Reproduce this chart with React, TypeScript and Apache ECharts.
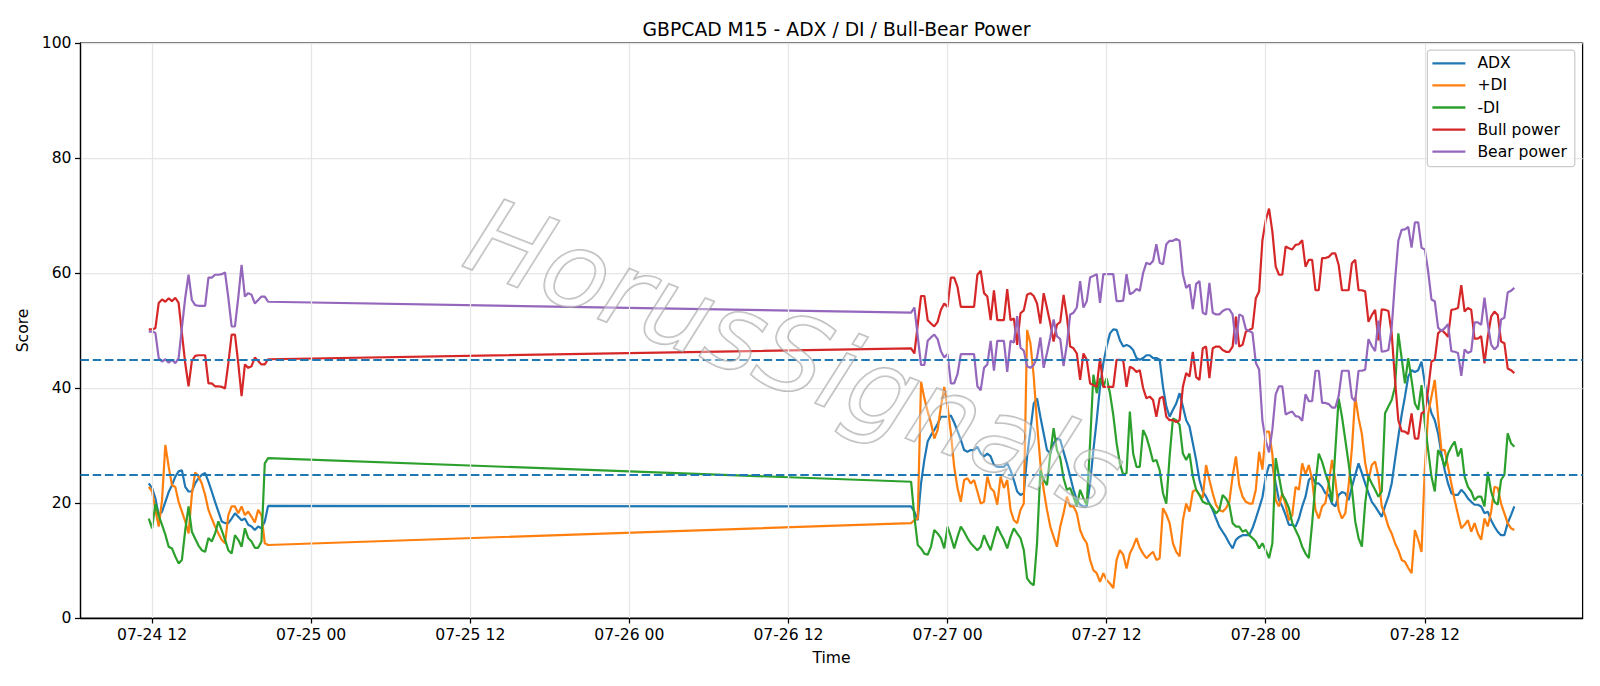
import { useEffect, useRef } from "react";
import * as echarts from "echarts";

// Time is measured in hours after 07-24 00:00; bars are 15 minutes apart.
const SESSION_1_START_H = 11.75; // 07-24 11:45
const SESSION_2_START_H = 69.25; // 07-26 21:15
const BAR_H = 0.25;
const SESSION_1_BARS = 37;

const X_MIN = 6.6;
const X_MAX = 119.9;
const X_TICKS = [12, 24, 36, 48, 60, 72, 84, 96, 108];
const THRESHOLDS = [45, 25];

// Session 1 (37 bars) followed by session 2 (183 bars)
const adx = [
  23.4, 22.6, 20.8, 17.9, 18.5, 20.2, 21.9, 23.1, 24.6, 25.5,
  25.7, 22.8, 22.0, 22.0, 23.4, 24.3, 24.9, 25.2, 23.7, 22.0,
  20.2, 18.5, 16.8, 16.5, 16.5, 17.3, 18.2, 17.6, 17.0, 17.3,
  16.2, 15.9, 15.3, 15.9, 15.6, 16.8, 19.5,
  19.4, 18.5, 17.0, 23.4, 27.5, 30.7, 31.8, 32.7, 33.8, 35.0,
  35.0, 35.0, 35.2, 34.0, 32.5, 31.0, 29.2, 28.9, 29.2, 29.2,
  29.8, 28.6, 28.1, 28.6, 28.1, 26.6, 26.3, 26.3, 26.3, 26.9,
  25.7, 24.0, 22.0, 21.4, 21.7, 28.1, 32.7, 37.3, 38.2, 35.0,
  32.1, 29.2, 28.6, 30.4, 31.2, 31.0, 28.9, 26.9, 24.6, 22.3,
  20.5, 19.7, 19.4, 19.4, 23.4, 29.2, 34.4, 40.2, 44.3, 47.2,
  49.5, 50.2, 50.1, 48.3, 47.2, 47.5, 47.2, 46.6, 45.2, 44.9,
  45.2, 45.7, 45.7, 45.2, 45.2, 44.9, 40.2, 36.8, 35.0, 36.2,
  37.3, 39.1, 36.8, 34.4, 33.3, 30.4, 27.5, 24.0, 22.0, 21.1,
  19.9, 18.8, 17.3, 15.9, 15.0, 14.1, 13.0, 12.1, 13.6, 14.1,
  14.4, 14.4, 14.4, 15.6, 17.3, 19.1, 21.0, 24.5, 26.6, 26.6,
  23.4, 20.5, 19.4, 17.9, 16.2, 16.2, 15.9, 17.3, 19.4, 21.1,
  24.0, 24.6, 23.4, 23.4, 22.8, 21.7, 21.4, 19.9, 19.4, 21.4,
  21.9, 21.7, 20.5, 22.8, 24.9, 26.9, 25.2, 23.4, 21.7, 20.2,
  19.4, 18.5, 17.6, 19.5, 21.1, 23.4, 27.5, 31.5, 35.3, 38.5,
  42.0, 43.1, 42.8, 43.1, 44.6, 40.8, 37.9, 35.6, 34.4, 32.1,
  28.6, 25.7, 23.4, 21.7, 21.4, 21.4, 22.3, 21.7, 20.8, 20.2,
  19.7, 19.7, 19.4, 18.2, 18.5, 17.0, 15.9, 15.0, 14.4, 14.4,
  16.5, 17.9, 19.4,
];

const plusDi = [
  22.8, 22.0, 18.8, 15.9, 20.5, 30.1, 26.3, 23.1, 22.8, 20.2,
  18.5, 16.8, 14.7, 21.5, 25.3, 24.6, 23.4, 21.4, 18.8, 17.3,
  15.9, 14.7, 13.6, 13.0, 17.9, 19.4, 19.4, 18.2, 19.4, 17.9,
  18.5, 17.6, 16.6, 18.8, 17.9, 13.0, 12.7,
  16.5, 17.0, 17.3, 41.1, 38.2, 35.9, 33.9, 31.2, 32.7, 36.8,
  40.2, 36.8, 32.2, 26.3, 22.6, 20.2, 24.0, 24.3, 23.4, 24.0,
  22.0, 19.9, 20.2, 24.6, 22.6, 22.0, 19.7, 24.6, 22.6, 24.0,
  18.8, 17.0, 16.5, 18.8, 19.9, 50.1, 47.8, 42.0, 33.9, 26.9,
  22.3, 18.8, 15.9, 14.1, 12.4, 15.9, 18.2, 21.1, 19.4, 19.4,
  18.2, 15.3, 13.9, 13.0, 10.1, 8.3, 7.8, 6.3, 7.8, 6.6,
  6.0, 5.2, 10.1, 11.8, 11.0, 8.6, 11.2, 12.4, 13.9, 12.2,
  11.2, 10.4, 11.0, 11.5, 10.1, 10.4, 19.1, 18.0, 16.5, 13.0,
  11.5, 10.7, 17.0, 19.9, 18.5, 22.0, 22.3, 21.4, 20.9, 26.6,
  24.0, 21.7, 19.7, 18.8, 18.5, 19.1, 20.2, 24.6, 28.1, 23.1,
  21.1, 20.2, 19.9, 19.9, 22.3, 28.9, 25.8, 32.4, 32.4, 28.5,
  20.5, 19.4, 21.7, 19.7, 17.0, 17.9, 22.8, 22.3, 26.9, 25.0,
  26.6, 24.0, 18.8, 17.3, 19.4, 20.0, 23.4, 27.5, 24.0, 18.8,
  17.3, 18.2, 23.0, 29.5, 38.5, 34.8, 32.0, 27.0, 24.0, 26.6,
  27.2, 24.6, 19.4, 17.9, 15.9, 14.7, 13.0, 11.8, 10.1, 9.8,
  8.7, 7.8, 15.3, 13.6, 11.5, 26.0, 35.5, 38.5, 41.4, 35.0,
  29.2, 29.2, 26.3, 23.4, 20.5, 18.0, 15.6, 16.2, 17.0, 15.0,
  16.5, 14.7, 13.6, 17.3, 15.9, 18.5, 22.8, 22.6, 19.9, 18.2,
  16.5, 15.6, 15.3,
];

const minusDi = [
  17.3, 15.6, 19.9, 17.8, 16.2, 14.5, 12.4, 12.1, 10.7, 9.5,
  10.1, 15.3, 19.4, 15.0, 13.8, 12.6, 11.8, 11.5, 13.9, 13.3,
  14.7, 16.8, 15.3, 13.6, 11.8, 11.2, 14.4, 13.6, 12.4, 15.6,
  13.9, 13.3, 12.2, 12.2, 13.3, 26.9, 27.8,
  23.7, 17.6, 12.7, 12.1, 11.2, 11.0, 12.4, 15.3, 14.7, 13.9,
  12.1, 15.9, 14.1, 12.1, 14.1, 15.9, 15.0, 13.9, 13.0, 12.4,
  11.8, 12.4, 14.4, 13.0, 11.8, 13.9, 15.9, 14.7, 13.6, 12.1,
  14.1, 15.6, 14.7, 13.9, 11.8, 6.9, 6.1, 5.7, 13.0, 25.7,
  24.0, 23.1, 28.6, 33.0, 29.2, 27.8, 24.3, 22.3, 22.6, 21.1,
  19.4, 22.3, 20.8, 19.7, 30.4, 42.3, 39.1, 41.7, 40.2, 41.7,
  39.1, 35.3, 30.4, 26.9, 24.9, 25.2, 35.9, 28.6, 26.3, 26.3,
  32.7, 31.5, 29.5, 27.2, 27.5, 25.7, 21.7, 19.9, 28.1, 34.7,
  34.4, 33.6, 28.6, 27.5, 28.6, 24.6, 22.3, 21.4, 20.2, 19.9,
  19.9, 19.1, 18.2, 18.8, 21.4, 20.8, 19.7, 16.5, 15.9, 15.9,
  15.0, 15.3, 14.4, 13.9, 13.3, 12.1, 13.0, 11.8, 10.4, 13.0,
  27.8, 24.6, 21.4, 20.5, 19.1, 16.5, 15.3, 14.1, 12.4, 11.2,
  10.4, 16.5, 23.4, 28.6, 27.2, 25.2, 23.4, 20.2, 29.2, 38.2,
  35.0, 31.0, 26.9, 22.6, 16.8, 13.9, 12.4, 19.9, 24.6, 23.4,
  22.3, 21.1, 22.0, 35.6, 36.8, 37.9, 40.2, 49.5, 45.2, 40.8,
  45.2, 41.4, 37.3, 36.2, 40.5, 33.9, 29.2, 24.6, 22.0, 29.2,
  28.1, 26.3, 28.6, 29.8, 30.7, 28.1, 29.5, 24.6, 22.8, 22.0,
  20.5, 21.1, 21.1, 19.4, 25.4, 22.0, 20.2, 19.7, 24.0, 24.9,
  32.1, 30.4, 29.8,
];

const bullPower = [
  50.2, 50.2, 50.4, 54.8, 55.4, 55.0, 55.6, 55.1, 55.7, 54.8,
  49.5, 44.3, 40.3, 44.7, 45.6, 45.7, 45.7, 45.7, 40.8, 40.8,
  40.3, 40.3, 40.2, 39.9, 44.3, 49.3, 49.3, 44.3, 38.6, 44.1,
  43.5, 43.8, 45.3, 44.7, 44.1, 44.1, 45.0,
  46.9, 46.0, 51.0, 56.0, 56.0, 51.8, 51.2, 50.7, 51.5, 53.6,
  54.7, 54.1, 59.2, 59.2, 57.6, 54.1, 54.1, 54.1, 54.1, 54.1,
  59.7, 60.4, 56.5, 55.9, 51.8, 57.0, 51.8, 51.8, 51.8, 57.2,
  51.8, 52.1, 47.5, 53.0, 53.5, 56.2, 56.5, 56.0, 54.7, 51.2,
  56.5, 53.9, 51.2, 48.1, 51.0, 51.5, 56.2, 52.4, 47.2, 46.9,
  46.0, 41.4, 46.0, 44.9, 40.8, 40.5, 40.2, 45.2, 40.2, 40.2,
  40.2, 40.2, 44.9, 44.9, 44.8, 40.2, 43.7, 43.4, 42.8, 43.1,
  40.0, 38.2, 38.5, 37.9, 35.0, 38.2, 38.5, 35.0, 34.4, 34.4,
  34.1, 34.4, 40.2, 42.6, 42.0, 46.3, 41.9, 41.4, 46.9, 47.2,
  41.7, 46.9, 47.2, 47.2, 46.6, 46.3, 46.3, 47.2, 52.4, 47.2,
  47.5, 49.8, 50.1, 50.4, 55.6, 56.8, 65.7, 69.2, 71.2, 67.2,
  61.1, 59.7, 59.7, 64.6, 64.3, 64.1, 64.9, 65.0, 65.7, 61.1,
  62.3, 62.3, 57.0, 57.0, 62.6, 62.6, 62.8, 63.4, 63.4, 61.4,
  57.0, 57.0, 57.0, 61.7, 62.3, 57.0, 57.0, 56.8, 51.5, 52.7,
  53.6, 48.3, 53.7, 53.6, 53.4, 49.5, 41.4, 34.4, 32.5, 32.4,
  32.0, 35.6, 31.2, 31.2, 35.6, 35.9, 39.7, 44.6, 44.9, 49.5,
  50.1, 49.6, 48.9, 53.6, 53.7, 53.9, 57.9, 53.3, 53.9, 53.6,
  48.6, 48.6, 49.0, 44.3, 48.9, 52.4, 53.3, 52.7, 48.1, 47.8,
  43.4, 43.1, 42.6,
];

const bearPower = [
  49.8, 49.8, 49.6, 45.2, 44.6, 45.0, 44.4, 44.9, 44.3, 45.2,
  50.5, 55.7, 59.7, 55.3, 54.4, 54.3, 54.3, 54.3, 59.2, 59.2,
  59.7, 59.7, 59.8, 60.1, 55.7, 50.7, 50.7, 55.7, 61.4, 55.9,
  56.5, 56.2, 54.7, 55.3, 55.9, 55.9, 55.0,
  53.1, 54.0, 49.0, 44.0, 44.0, 48.2, 48.8, 49.3, 48.5, 46.4,
  45.3, 45.9, 40.8, 40.8, 42.4, 45.9, 45.9, 45.9, 45.9, 45.9,
  40.3, 39.6, 43.5, 44.1, 48.2, 43.0, 48.2, 48.2, 48.2, 42.8,
  48.2, 47.9, 52.5, 47.0, 46.5, 43.8, 43.5, 44.0, 45.3, 48.8,
  43.5, 46.1, 48.8, 51.9, 49.0, 48.5, 43.8, 47.6, 52.8, 53.1,
  54.0, 58.6, 54.0, 55.1, 59.2, 59.5, 59.8, 54.8, 59.8, 59.8,
  59.8, 59.8, 55.1, 55.1, 55.2, 59.8, 56.3, 56.6, 57.2, 56.9,
  60.0, 61.8, 61.5, 62.1, 65.0, 61.8, 61.5, 65.0, 65.6, 65.6,
  65.9, 65.6, 59.8, 57.4, 58.0, 53.7, 58.1, 58.6, 53.1, 52.8,
  58.3, 53.1, 52.8, 52.8, 53.4, 53.7, 53.7, 52.8, 47.6, 52.8,
  52.5, 50.2, 49.9, 49.6, 44.4, 43.2, 34.3, 30.8, 28.8, 32.8,
  38.9, 40.3, 40.3, 35.4, 35.7, 35.9, 35.1, 35.0, 34.3, 38.9,
  37.7, 37.7, 43.0, 43.0, 37.4, 37.4, 37.2, 36.6, 36.6, 38.6,
  43.0, 43.0, 43.0, 38.3, 37.7, 43.0, 43.0, 43.2, 48.5, 47.3,
  46.4, 51.7, 46.3, 46.4, 46.6, 50.5, 58.6, 65.6, 67.5, 67.6,
  68.0, 64.4, 68.8, 68.8, 64.4, 64.1, 60.3, 55.4, 55.1, 50.5,
  49.9, 50.4, 51.1, 46.4, 46.3, 46.1, 42.1, 46.7, 46.1, 46.4,
  51.4, 51.4, 51.0, 55.7, 51.1, 47.6, 46.7, 47.3, 51.9, 52.2,
  56.6, 56.9, 57.4,
];

const SERIES = [
  { name: "ADX", color: "#1f77b4", values: adx },
  { name: "+DI", color: "#ff7f0e", values: plusDi },
  { name: "-DI", color: "#2ca02c", values: minusDi },
  { name: "Bull power", color: "#d62728", values: bullPower },
  { name: "Bear power", color: "#9467bd", values: bearPower },
];

const FONT = "DejaVu Sans";

function barHour(i: number): number {
  return i < SESSION_1_BARS
    ? SESSION_1_START_H + i * BAR_H
    : SESSION_2_START_H + (i - SESSION_1_BARS) * BAR_H;
}

function hourLabel(h: number): string {
  const day = 24 + Math.floor(h / 24);
  const hh = Math.round(h % 24);
  return `07-${day} ${hh < 10 ? "0" + hh : hh}`;
}

export default function App() {
  const ref = useRef<HTMLDivElement>(null);

  useEffect(() => {
    if (!ref.current) return;
    const chart = echarts.init(ref.current, undefined, { renderer: "svg" });

    const lineSeries = SERIES.map((s) => ({
      name: s.name,
      type: "line",
      data: s.values.map((v, i) => [barHour(i), v]),
      showSymbol: false,
      symbol: "none",
      color: s.color,
      lineStyle: { color: s.color, width: 2.2 },
      z: 2,
    }));

    chart.setOption({
      animation: false,
      backgroundColor: "#ffffff",
      title: {
        text: "GBPCAD M15 - ADX / DI / Bull-Bear Power",
        left: 831.5,
        textAlign: "center",
        top: 15,
        textStyle: { fontFamily: FONT, fontSize: 18.75, fontWeight: "normal", color: "#000" },
      },
      legend: {
        orient: "vertical",
        right: 25.2,
        top: 50,
        icon: "rect",
        itemWidth: 33,
        itemHeight: 2.3,
        itemGap: 6.1,
        padding: [5.3, 8, 7, 5],
        backgroundColor: "rgba(255,255,255,0.8)",
        borderColor: "#cccccc",
        borderWidth: 1.25,
        borderRadius: 3,
        textStyle: { fontFamily: FONT, fontSize: 15.6, color: "#000", lineHeight: 16, padding: [0, 0, 0, 7] },
        data: SERIES.map((s) => s.name),
      },
      grid: {
        left: 80.5,
        right: 17.4,
        top: 43,
        bottom: 68,
        show: true,
        borderColor: "#000",
        borderWidth: 1.25,
        backgroundColor: "transparent",
      },
      xAxis: {
        type: "value",
        min: X_MIN,
        max: X_MAX,
        name: "Time",
        nameLocation: "middle",
        nameGap: 32,
        nameTextStyle: { fontFamily: FONT, fontSize: 15.6, color: "#000" },
        axisLine: { show: true, lineStyle: { color: "#000", width: 1.25 } },
        axisTick: { show: true, length: 5.5, lineStyle: { color: "#000", width: 1.25 }, customValues: X_TICKS },
        axisLabel: {
          customValues: X_TICKS,
          formatter: (v: number) => hourLabel(v),
          margin: 9,
          fontFamily: FONT,
          fontSize: 15.6,
          color: "#000",
          hideOverlap: false,
        },
        splitLine: { show: false },
      },
      yAxis: {
        type: "value",
        min: 0,
        max: 100,
        interval: 20,
        name: "Score",
        nameLocation: "middle",
        nameGap: 45,
        nameTextStyle: { fontFamily: FONT, fontSize: 15.6, color: "#000" },
        axisLine: { show: true, lineStyle: { color: "#000", width: 1.25 } },
        axisTick: { show: true, length: 5.5, lineStyle: { color: "#000", width: 1.25 } },
        axisLabel: { margin: 9, fontFamily: FONT, fontSize: 15.6, color: "#000" },
        splitLine: { show: true, lineStyle: { color: "#e6e6e6", width: 1.25 } },
      },
      series: [
        {
          type: "line",
          data: [],
          z: 1,
          silent: true,
          markLine: {
            silent: true,
            symbol: ["none", "none"],
            label: { show: false },
            lineStyle: { color: "#e6e6e6", width: 1.25, type: "solid" },
            data: X_TICKS.map((x) => ({ xAxis: x })),
          },
        },
        ...lineSeries,
        {
          type: "line",
          data: [],
          z: 3,
          silent: true,
          markLine: {
            silent: true,
            symbol: ["none", "none"],
            label: { show: false },
            lineStyle: { color: "#1f77b4", width: 1.8, type: [8.5, 3.7] },
            data: THRESHOLDS.map((y) => ({ yAxis: y })),
          },
        },
      ],
      graphic: [
        {
          type: "text",
          x: 795,
          y: 356,
          rotation: -0.37,
          z: 100,
          silent: true,
          style: {
            text: "HorusSignals",
            fontFamily: FONT,
            fontSize: 106,
            fontStyle: "italic",
            fontWeight: "normal",
            fill: "rgba(255,255,255,0.35)",
            stroke: "rgba(150,150,150,0.65)",
            lineWidth: 1.8,
            shadowColor: "rgba(0,0,0,0.22)",
            shadowBlur: 3,
            shadowOffsetX: 2,
            shadowOffsetY: 2,
            align: "center",
            verticalAlign: "middle",
          },
        },
      ],
    });

    return () => chart.dispose();
  }, []);

  return (
    <div
      ref={ref}
      style={{ position: "absolute", left: 0, top: 0, width: 1600, height: 686 }}
    />
  );
}
